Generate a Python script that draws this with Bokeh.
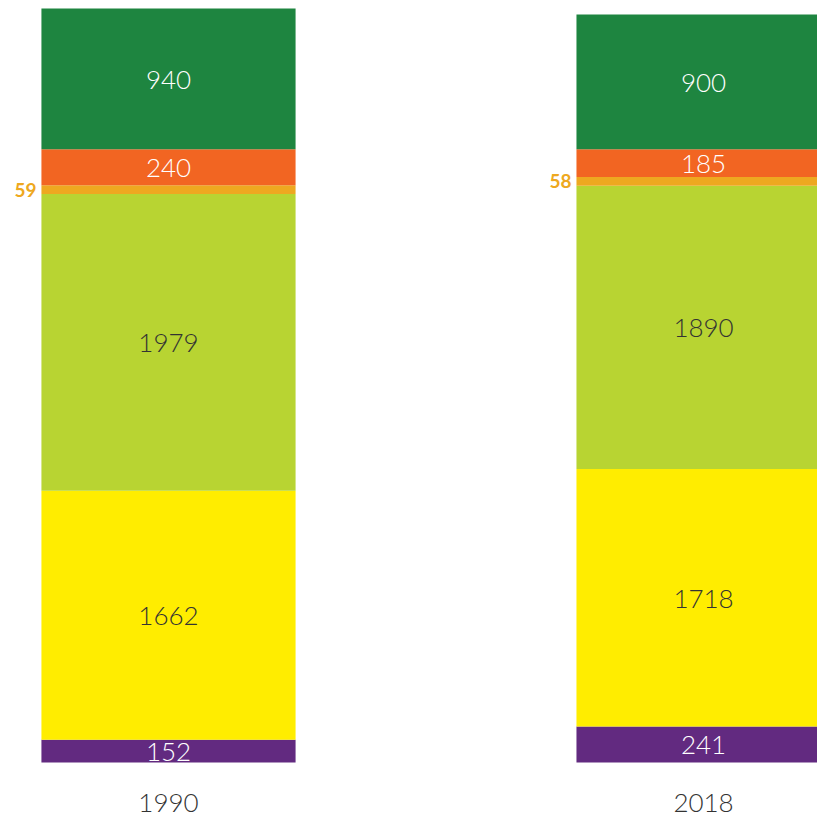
import numpy as np
from bokeh.plotting import figure
from bokeh.models import ColumnDataSource, Range1d
from bokeh.core.properties import value
from bokeh.embed import file_html
from bokeh.resources import INLINE

# ---- data ----
years = ["1990", "2018"]
# segments from bottom to top
seg_purple = [152, 241]
seg_yellow = [1662, 1718]
seg_lime = [1979, 1890]
seg_amber = [59, 58]
seg_orange = [240, 185]
seg_green = [940, 900]

segments = [seg_purple, seg_yellow, seg_lime, seg_amber, seg_orange, seg_green]
colors = ["#622A80", "#FFED00", "#B8D432", "#EEA820", "#F26522", "#1E8540"]
label_colors = ["#FFFFFF", "#333333", "#333333", None, "#FFFFFF", "#FFFFFF"]

FONT = "Lato Light, Lato"
BAR_W = 0.475

p = figure(width=817, height=817, output_backend="svg", toolbar_location=None,
           x_range=Range1d(-0.314, 1.213), y_range=Range1d(-367, 5085),
           min_border=0)
p.axis.visible = False
p.grid.visible = False
p.outline_line_color = None
p.background_fill_color = "white"

xs = list(range(len(years)))
bottom = np.zeros(len(years))
for seg, col, lcol in zip(segments, colors, label_colors):
    vals = np.array(seg, dtype=float)
    top = bottom + vals
    src = ColumnDataSource(dict(x=xs, bottom=bottom.copy(), top=top.copy(),
                                mid=(bottom + top) / 2,
                                lab=[str(v) for v in seg],
                                lx=[x - BAR_W / 2 for x in xs]))
    p.vbar(x="x", bottom="bottom", top="top", width=BAR_W, source=src,
           fill_color=col, line_color=None)
    if lcol is not None:
        p.text(x="x", y="mid", text="lab", source=src, text_align="center",
               text_baseline="middle", text_color=lcol, text_font_size="26px",
               text_font=value(FONT), y_offset=1)
    else:
        p.text(x="lx", y="mid", text="lab", source=src, text_align="right",
               text_baseline="middle", text_color=col, text_font_size="19px",
               text_font=value("Lato"), text_font_style="bold", x_offset=-5)
    bottom = top

ysrc = ColumnDataSource(dict(x=xs, y=[0] * len(years), t=years))
p.text(x="x", y="y", text="t", source=ysrc, text_align="center",
       text_baseline="middle", text_color="#333333", text_font_size="26px",
       text_font=value(FONT), y_offset=40)

open("out.html", "w").write(file_html(p, INLINE))
